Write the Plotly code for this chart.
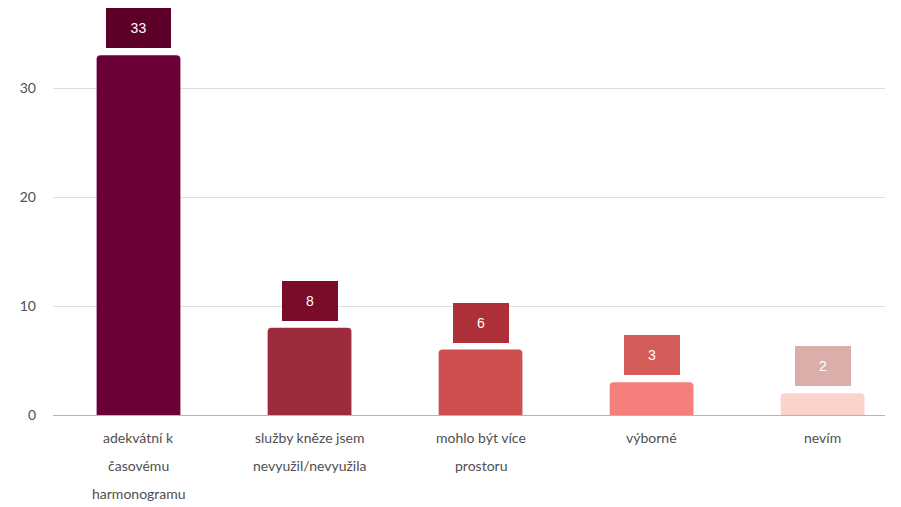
import plotly.graph_objects as go

categories = ["adekvátní k časovému harmonogramu", "služby kněze jsem nevyužil/nevyužila",
              "mohlo být více prostoru", "výborné", "nevím"]
label_lines = [["adekvátní k", "časovému", "harmonogramu"],
               ["služby kněze jsem", "nevyužil/nevyužila"],
               ["mohlo být více", "prostoru"],
               ["výborné"],
               ["nevím"]]
values = [33, 8, 6, 3, 2]
bar_colors = ["#6b0036", "#9e2b3d", "#cf4f50", "#f47f7b", "#fcd3cc"]
box_colors = ["#5c002a", "#7a0c27", "#ad2f37", "#d45c59", "#dbaeaa"]
y_ticks = [0, 10, 20, 30]

FONT = "Lato, 'Open Sans', sans-serif"

fig = go.Figure()
fig.add_trace(go.Bar(
    x=list(range(len(categories))), y=values,
    marker=dict(color=bar_colors, line=dict(width=0), cornerradius=4),
    width=0.49, hoverinfo="skip", showlegend=False,
))

annotations = []
for i, v in enumerate(values):
    annotations.append(dict(
        x=i, y=v, xref="x", yref="y", text=str(v), showarrow=False,
        yanchor="bottom", yshift=7,
        font=dict(family="Arial, 'Liberation Sans', sans-serif", size=14, color="#ffffff"),
        bgcolor=box_colors[i], bordercolor=box_colors[i], borderwidth=1,
        width=52 if v < 10 else 61, height=36, align="center", valign="middle",
    ))
    for j, line in enumerate(label_lines[i]):
        annotations.append(dict(
            x=i, y=0, xref="x", yref="y", text=line, showarrow=False,
            yanchor="middle", yshift=-(22 + 28 * j),
            font=dict(family=FONT, size=14, color="#505050"),
        ))

# page body has an 8px default margin, so the figure is slightly smaller
fig.update_layout(
    width=893, height=499,
    margin=dict(l=45, r=16, t=2, b=92, autoexpand=False),
    paper_bgcolor="white", plot_bgcolor="white",
    annotations=annotations,
    bargap=0.5,
    xaxis=dict(range=[-0.5, 4.365], showticklabels=False, showgrid=False,
               zeroline=False, showline=False, ticks="", automargin=False),
    yaxis=dict(range=[0, 37.16], tickvals=y_ticks, showgrid=True, gridcolor="#dedede",
               gridwidth=1, zeroline=True, zerolinecolor="#b5b5b5", zerolinewidth=1,
               tickfont=dict(family=FONT, size=14, color="#505050"),
               ticklabelstandoff=16, showline=False, ticks="", automargin=False),
)

fig.write_html("out.html")
